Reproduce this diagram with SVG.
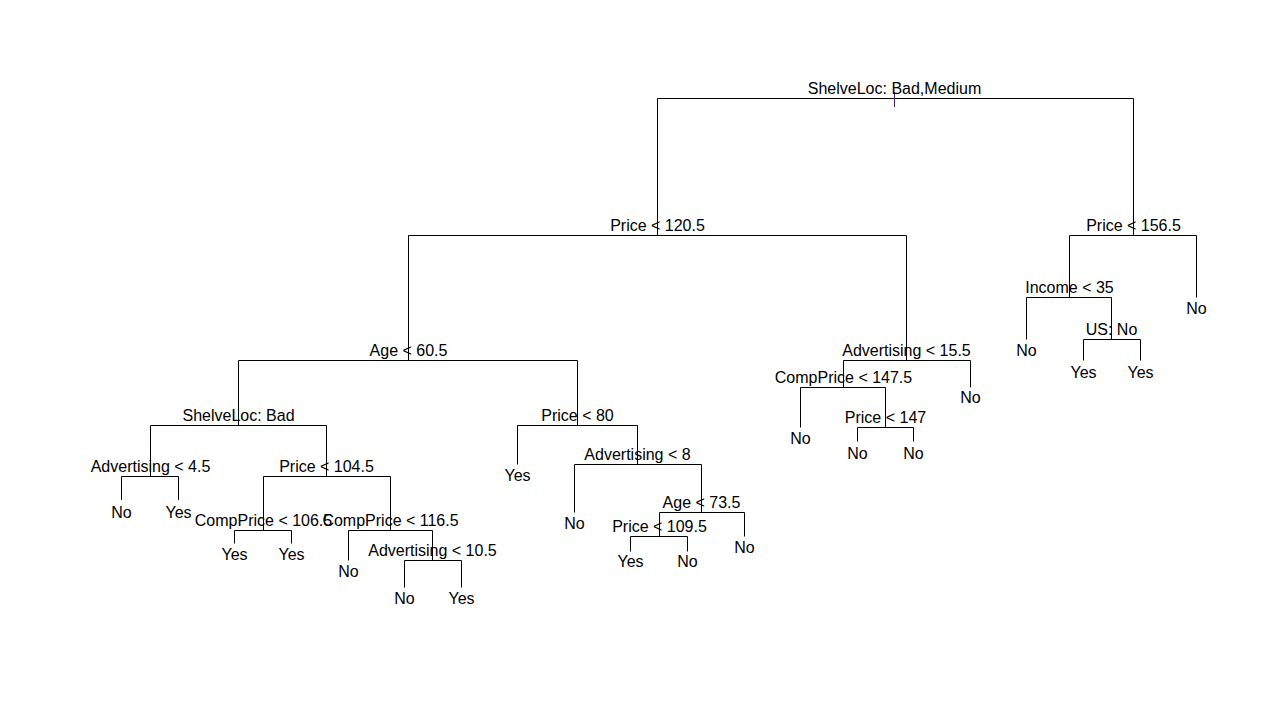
<svg xmlns="http://www.w3.org/2000/svg" width="1280" height="705" viewBox="0 0 1280 705">
<style>
text{font-family:"Liberation Sans",Arial,sans-serif;font-size:16px;fill:#000;text-anchor:middle}
.c{fill:none;stroke:#000;stroke-width:1}
</style>
<rect width="1280" height="705" fill="#fff"/>
<g id="connectors">
<path class="c" d="M657.5 235.5V98.5H1133.5V235.5"/>
<line x1="894.5" y1="92" x2="894.5" y2="107" stroke="#4a1a7a" stroke-width="1"/>
<path class="c" d="M408.5 360.5V235.5H906.5V360.5"/>
<path class="c" d="M238.5 425.5V360.5H577.5V425.5"/>
<path class="c" d="M150.5 476.5V425.5H326.5V476.5"/>
<path class="c" d="M121.5 500V476.5H178.5V500"/>
<path class="c" d="M263.5 530.5V476.5H390.5V530.5"/>
<path class="c" d="M234.5 543.5V530.5H291.5V543.5"/>
<path class="c" d="M348.5 560.5V530.5H432.5V560.5"/>
<path class="c" d="M404.5 587.5V560.5H461.5V587.5"/>
<path class="c" d="M517.5 464.5V425.5H637.5V464.5"/>
<path class="c" d="M574.5 512.5V464.5H701.5V512.5"/>
<path class="c" d="M659.5 536.5V512.5H744.5V536.5"/>
<path class="c" d="M630.5 551.5V536.5H687.5V551.5"/>
<path class="c" d="M843.5 387.5V360.5H970.5V387.5"/>
<path class="c" d="M800.5 427.5V387.5H885.5V427.5"/>
<path class="c" d="M857.5 441.5V427.5H913.5V441.5"/>
<path class="c" d="M1069.5 297.5V235.5H1196.5V297.5"/>
<path class="c" d="M1026.5 339.5V297.5H1111.5V339.5"/>
<path class="c" d="M1083.5 360.5V339.5H1140.5V360.5"/>
</g>
<g id="n-root"><text x="894.5" y="94">ShelveLoc: Bad,Medium</text></g>
<g id="n-price1205"><text x="657.5" y="231">Price &lt; 120.5</text></g>
<g id="n-price1565"><text x="1133.5" y="231">Price &lt; 156.5</text></g>
<g id="n-age605"><text x="408.5" y="356">Age &lt; 60.5</text></g>
<g id="n-adv155"><text x="906.5" y="356">Advertising &lt; 15.5</text></g>
<g id="n-shelvebad"><text x="238.5" y="421">ShelveLoc: Bad</text></g>
<g id="n-price80"><text x="577.5" y="421">Price &lt; 80</text></g>
<g id="n-adv45"><text x="150.5" y="472">Advertising &lt; 4.5</text></g>
<g id="n-price1045"><text x="326.5" y="472">Price &lt; 104.5</text></g>
<g id="n-comp1065"><text x="263.5" y="526">CompPrice &lt; 106.5</text></g>
<g id="n-comp1165"><text x="390.5" y="526">CompPrice &lt; 116.5</text></g>
<g id="n-adv105"><text x="432.5" y="556">Advertising &lt; 10.5</text></g>
<g id="n-adv8"><text x="637.5" y="460">Advertising &lt; 8</text></g>
<g id="n-age735"><text x="701.5" y="508">Age &lt; 73.5</text></g>
<g id="n-price1095"><text x="659.5" y="532">Price &lt; 109.5</text></g>
<g id="n-comp1475"><text x="843.5" y="383">CompPrice &lt; 147.5</text></g>
<g id="n-price147"><text x="885.5" y="423">Price &lt; 147</text></g>
<g id="n-income35"><text x="1069.5" y="293">Income &lt; 35</text></g>
<g id="n-usno"><text x="1111.5" y="335">US: No</text></g>
<g id="leaf-1"><text x="121.5" y="517.5">No</text></g>
<g id="leaf-2"><text x="178.5" y="517.5">Yes</text></g>
<g id="leaf-3"><text x="234.5" y="559.5">Yes</text></g>
<g id="leaf-4"><text x="291.5" y="559.5">Yes</text></g>
<g id="leaf-5"><text x="348.5" y="577">No</text></g>
<g id="leaf-6"><text x="404.5" y="604">No</text></g>
<g id="leaf-7"><text x="461.5" y="604">Yes</text></g>
<g id="leaf-8"><text x="517.5" y="481">Yes</text></g>
<g id="leaf-9"><text x="574.5" y="529">No</text></g>
<g id="leaf-10"><text x="630.5" y="567">Yes</text></g>
<g id="leaf-11"><text x="687.5" y="567">No</text></g>
<g id="leaf-12"><text x="744.5" y="553">No</text></g>
<g id="leaf-13"><text x="800.5" y="443.5">No</text></g>
<g id="leaf-14"><text x="857.5" y="458.5">No</text></g>
<g id="leaf-15"><text x="913.5" y="458.5">No</text></g>
<g id="leaf-16"><text x="970.5" y="403">No</text></g>
<g id="leaf-17"><text x="1026.5" y="356">No</text></g>
<g id="leaf-18"><text x="1083.5" y="377.5">Yes</text></g>
<g id="leaf-19"><text x="1140.5" y="377.5">Yes</text></g>
<g id="leaf-20"><text x="1196.5" y="314">No</text></g>
</svg>
